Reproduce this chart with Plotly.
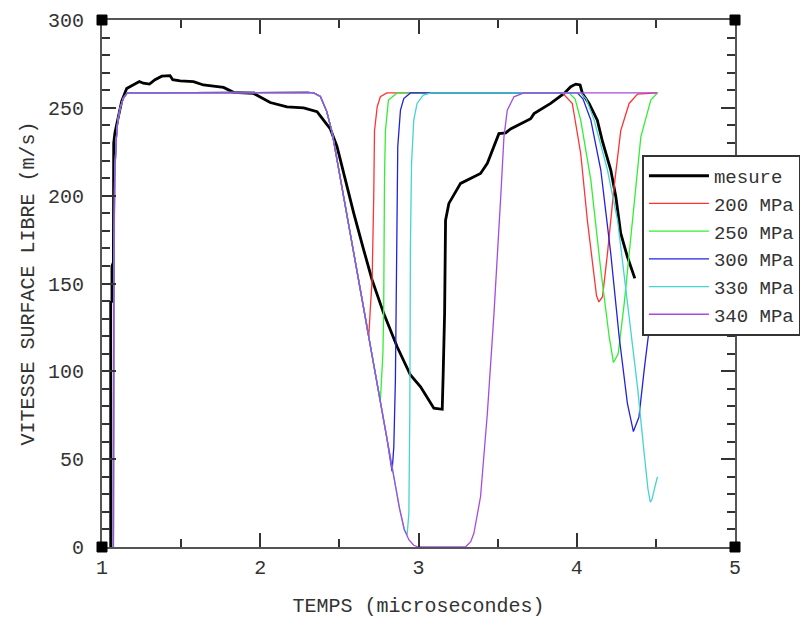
import plotly.graph_objects as go

# ---- data ----
mesure_x = [1.055, 1.055, 1.063, 1.063, 1.072, 1.074, 1.082, 1.097, 1.125, 1.156, 1.198, 1.236, 1.261,
            1.30, 1.335, 1.378, 1.43, 1.447, 1.494, 1.578, 1.641, 1.726, 1.768, 1.831, 1.958, 2.063,
            2.169, 2.274, 2.359, 2.40, 2.443, 2.485, 2.527, 2.591, 2.654, 2.707, 2.78, 2.865, 2.949,
            3.013, 3.097, 3.15, 3.156, 3.165, 3.171, 3.192, 3.266, 3.392, 3.435, 3.477, 3.508, 3.551,
            3.582, 3.709, 3.73, 3.835, 3.92, 3.962, 3.994, 4.021, 4.036, 4.078, 4.13, 4.163, 4.215,
            4.247, 4.278, 4.32, 4.367]
mesure_y = [0, 139, 140, 160, 162, 230, 236, 243, 254, 261, 263, 265, 264,
            263.5, 266, 268, 268.3, 266, 265.4, 264.9, 263, 262, 261.6, 258.8, 258.2, 253,
            250.6, 250, 247.8, 243, 238, 228, 212.6, 189.9, 169, 152, 133, 114, 97.9,
            91.2, 79, 78.4, 98.8, 133, 186, 195.6, 207, 212.6, 218.4, 227.8, 235.3, 235.7,
            238, 243.8, 246.7, 252.5, 258.2, 262, 263.5, 263, 258.2, 252.5, 243, 230.7, 214.6,
            199.4, 178.5, 165.2, 152.9]

p200_x = [1.072, 1.074, 1.08, 1.09, 1.10, 1.115, 1.135, 1.16, 2.30, 2.338, 2.38, 2.42, 2.454, 2.5,
          2.6, 2.686, 2.695, 2.707, 2.717, 2.722, 2.739, 2.759, 2.80, 3.909, 3.972, 4.025, 4.067,
          4.11, 4.125, 4.14, 4.163, 4.194, 4.236, 4.278, 4.331, 4.384, 4.51]
p200_y = [0, 140, 211, 232, 243, 250, 255.5, 258.5, 258.8, 258.5, 256.5, 248, 236, 213,
          163, 120, 135, 152, 199, 237, 250.6, 256.3, 258.5, 258.5, 252.5, 224, 186,
          152, 143, 139.5, 142.5, 167, 205, 237, 252.5, 257.8, 258.5]

p250_x = [1.072, 1.074, 1.08, 1.09, 1.10, 1.115, 1.135, 1.16, 2.30, 2.338, 2.38, 2.42, 2.454, 2.5,
          2.6, 2.7, 2.759, 2.775, 2.78, 2.785, 2.791, 2.81, 2.865, 3.951, 3.99, 4.025, 4.089,
          4.152, 4.205, 4.232, 4.262, 4.30, 4.352, 4.405, 4.468, 4.51]
p250_y = [0, 140, 211, 232, 243, 250, 255.5, 258.5, 258.8, 258.5, 256.5, 248, 236, 213,
          163, 112, 83, 110, 133, 209, 237, 254.4, 258.5, 258.5, 255, 243, 209,
          157.6, 119.7, 105, 110, 138.7, 186, 233.5, 254.4, 258.5]

p300_x = [1.072, 1.074, 1.08, 1.09, 1.10, 1.115, 1.135, 1.16, 2.30, 2.338, 2.38, 2.42, 2.454, 2.5,
          2.6, 2.7, 2.8, 2.833, 2.844, 2.854, 2.865, 2.869, 2.886, 2.907, 2.949, 4.004, 4.04,
          4.089, 4.152, 4.215, 4.268, 4.32, 4.358, 4.393, 4.426, 4.457, 4.51]
p300_y = [0, 140, 211, 232, 243, 250, 255.5, 258.5, 258.8, 258.5, 256.5, 248, 236, 213,
          163, 112, 62, 43, 57, 95, 171, 228, 248.7, 255.3, 258.5, 258.5, 255,
          243, 214.6, 167, 119.7, 81.8, 65.7, 74, 100.7, 123.5, 175]

p330_x = [1.072, 1.074, 1.08, 1.09, 1.10, 1.115, 1.135, 1.16, 2.30, 2.338, 2.38, 2.42, 2.454, 2.5,
          2.6, 2.7, 2.8, 2.85, 2.88, 2.91, 2.928, 2.939, 2.945, 2.949, 2.956, 2.97, 2.991, 3.03,
          3.08, 4.025, 4.06, 4.11, 4.194, 4.258, 4.32, 4.384, 4.426, 4.45, 4.465, 4.475, 4.489, 4.51]
p330_y = [0, 140, 211, 232, 243, 250, 255.5, 258.5, 258.8, 258.5, 256.5, 248, 236, 213,
          163, 112, 62, 38, 22, 10, 6.8, 19, 76, 171, 218, 243, 252.5, 257.3,
          258.5, 258.5, 255, 243, 214.6, 186, 138.7, 91, 53.3, 33, 25.5, 27, 32.4, 40]

p340_x = [1.072, 1.074, 1.08, 1.09, 1.10, 1.115, 1.135, 1.16, 2.30, 2.338, 2.38, 2.42, 2.454, 2.5,
          2.6, 2.7, 2.8, 2.85, 2.88, 2.91, 2.94, 2.97, 3.0, 3.297, 3.33, 3.35, 3.392, 3.435, 3.477,
          3.52, 3.54, 3.561, 3.603, 3.666, 4.51]
p340_y = [0, 140, 211, 232, 243, 250, 255.5, 258.5, 258.8, 258.5, 256.5, 248, 236, 213,
          163, 112, 62, 38, 22, 10, 4, 1, 0, 0, 3, 7.8, 28.6, 76, 133,
          200, 233.5, 248.7, 256.3, 258.5, 258.5]

x_ticks = [1, 2, 3, 4, 5]
y_ticks = [0, 50, 100, 150, 200, 250, 300]

FONT = "Liberation Mono"
FS = 20
TXT = "#333333"

fig = go.Figure()
series = [
    ("mesure", mesure_x, mesure_y, "#000000", 2.8),
    ("200 MPa", p200_x, p200_y, "#ff3333", 1.3),
    ("250 MPa", p250_x, p250_y, "#33ee33", 1.3),
    ("300 MPa", p300_x, p300_y, "#2222dd", 1.3),
    ("330 MPa", p330_x, p330_y, "#44d4d4", 1.3),
    ("340 MPa", p340_x, p340_y, "#a64be0", 1.3),
]
for name, xs, ys, col, w in series:
    fig.add_trace(go.Scatter(x=xs, y=ys, mode="lines", name=name,
                             line=dict(color=col, width=w)))

axis_common = dict(
    showgrid=False, zeroline=False, showline=True, linecolor="#555555", linewidth=2,
    mirror="allticks", ticks="inside", ticklen=14, tickwidth=1.5, tickcolor="#333333",
    tickfont=dict(family=FONT, size=FS, color=TXT),
)
fig.update_xaxes(range=[1, 5], tickvals=x_ticks, ticktext=[str(v) for v in x_ticks],
                 minor=dict(ticks="inside", ticklen=8, tickwidth=1.5, tickcolor="#333333",
                            tickvals=[1.5, 2.5, 3.5, 4.5]),
                 ticklabelstandoff=1,
                 title=dict(text="TEMPS (microsecondes)", font=dict(family=FONT, size=FS, color=TXT),
                            standoff=19),
                 **axis_common)
fig.update_yaxes(range=[0, 300], tickvals=y_ticks, ticktext=[str(v) for v in y_ticks],
                 minor=dict(ticks="inside", ticklen=8, tickwidth=1.5, tickcolor="#333333", dtick=10, tick0=0),
                 ticklabelstandoff=12,
                 title=dict(text="VITESSE SURFACE LIBRE (m/s)", font=dict(family=FONT, size=FS, color=TXT),
                            standoff=8),
                 **axis_common)

# black corner squares
for cx in (0, 1):
    for cy in (0, 1):
        fig.add_shape(type="rect", xref="paper", yref="paper",
                      xsizemode="pixel", ysizemode="pixel", xanchor=cx, yanchor=cy,
                      x0=-5, x1=5, y0=-5, y1=5,
                      fillcolor="black", line=dict(color="black", width=1), layer="above")

# page body has an 8px margin: figure is 800x612 so that it fills the 808x620 window
fig.update_layout(
    width=800, height=612,
    margin=dict(l=94, r=73, t=12, b=73, autoexpand=False),
    plot_bgcolor="white", paper_bgcolor="white",
    font=dict(family=FONT, size=FS, color=TXT),
    showlegend=True,
    legend=dict(x=0.853, y=0.744, xanchor="left", yanchor="top",
                bgcolor="white", bordercolor="#333333", borderwidth=2,
                font=dict(family=FONT, size=19, color=TXT),
                itemwidth=60, tracegroupgap=0),
)

fig.write_html("out.html")
